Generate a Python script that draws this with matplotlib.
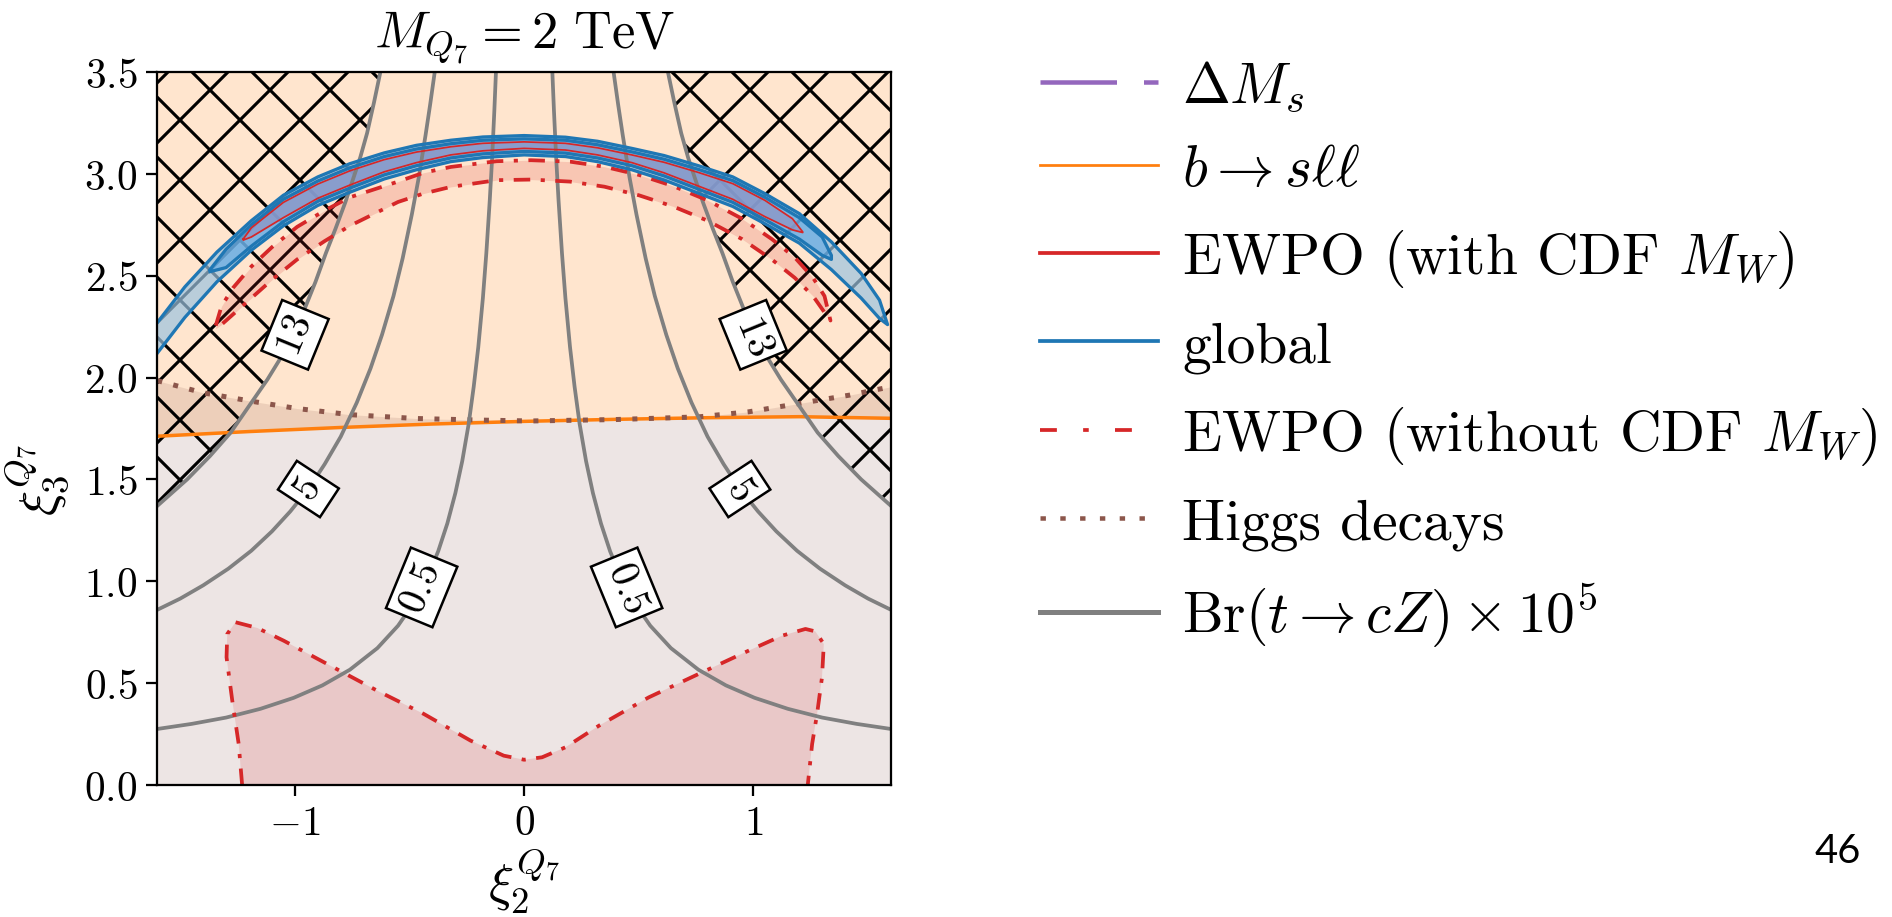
import numpy as np
import matplotlib
matplotlib.use('Agg')
from matplotlib import pyplot as plt
from matplotlib.lines import Line2D

plt.rcParams['mathtext.fontset'] = 'cm'
plt.rcParams['font.family'] = 'serif'
plt.rcParams['font.serif'] = ['cmr10', 'DejaVu Serif']
plt.rcParams['axes.formatter.use_mathtext'] = True
plt.rcParams['hatch.linewidth'] = 1.25

DPI = 180

# b -> s l l boundary (allowed above)
bsll_x = [-1.6, -1.2, -0.8, -0.4, 0.0, 0.4, 0.8, 1.2, 1.6]
bsll_y = [1.712, 1.735, 1.755, 1.772, 1.785, 1.795, 1.803, 1.808, 1.800]

# Higgs decays boundary (allowed below)
higgs_x = [-1.6, -1.40, -1.19, -0.99, -0.76, -0.47, -0.18, 0.03, 0.40, 0.76, 0.98, 1.20, 1.42, 1.6]
higgs_y = [1.985, 1.925, 1.884, 1.848, 1.818, 1.799, 1.791, 1.787, 1.794, 1.807, 1.832, 1.873, 1.914, 1.955]

# global fit, outer region
glob_x = [-1.60, -1.48, -1.34, -1.19, -1.05, -0.90, -0.76, -0.61, -0.47, -0.32, -0.18, 0.00,
          0.18, 0.32, 0.47, 0.61, 0.76, 0.91, 1.05, 1.20, 1.34, 1.47, 1.55, 1.585]
glob_hi = [2.27, 2.445, 2.616, 2.77, 2.895, 2.985, 3.05, 3.103, 3.14, 3.165, 3.181, 3.188,
           3.18, 3.16, 3.125, 3.09, 3.04, 2.985, 2.903, 2.805, 2.666, 2.511, 2.38, 2.26]
glob_lo = [2.12, 2.295, 2.47, 2.625, 2.745, 2.845, 2.91, 2.975, 3.02, 3.06, 3.08, 3.093,
           3.085, 3.06, 3.02, 2.97, 2.905, 2.84, 2.755, 2.66, 2.53, 2.39, 2.29, 2.26]

# global fit, inner region
inner_x = [-1.37, -1.30, -1.19, -1.05, -0.90, -0.76, -0.61, -0.47, -0.32, -0.18, 0.00,
           0.18, 0.32, 0.47, 0.61, 0.76, 0.91, 1.05, 1.20, 1.30, 1.34]
inner_hi = [2.53, 2.63, 2.75, 2.875, 2.965, 3.03, 3.085, 3.122, 3.148, 3.165, 3.172,
            3.165, 3.143, 3.108, 3.072, 3.022, 2.967, 2.885, 2.785, 2.69, 2.60]
inner_lo = [2.52, 2.54, 2.645, 2.765, 2.865, 2.93, 2.995, 3.04, 3.078, 3.098, 3.11,
            3.102, 3.078, 3.04, 2.99, 2.925, 2.86, 2.775, 2.68, 2.60, 2.58]

# EWPO with CDF M_W
cdf_x = [-1.225, -1.19, -1.05, -0.90, -0.76, -0.61, -0.47, -0.32, -0.18, 0.00,
         0.18, 0.32, 0.47, 0.61, 0.76, 0.91, 1.05, 1.17, 1.215]
cdf_hi = [2.68, 2.735, 2.86, 2.95, 3.015, 3.07, 3.107, 3.133, 3.15, 3.157,
          3.15, 3.128, 3.093, 3.057, 3.007, 2.952, 2.87, 2.78, 2.715]
cdf_lo = [2.675, 2.69, 2.785, 2.88, 2.945, 3.01, 3.055, 3.093, 3.113, 3.125,
          3.117, 3.093, 3.055, 3.005, 2.94, 2.875, 2.79, 2.725, 2.712]

# EWPO without CDF M_W, upper arc
nocdf_x = [-1.345, -1.32, -1.27, -1.19, -1.10, -0.99, -0.87, -0.76, -0.55, -0.44, -0.32, -0.12,
           0.03, 0.20, 0.35, 0.50, 0.65, 0.80, 0.95, 1.08, 1.18, 1.26, 1.31, 1.336]
nocdf_hi = [2.255, 2.35, 2.44, 2.545, 2.64, 2.74, 2.82, 2.885, 2.962, 3.005, 3.034, 3.062,
            3.067, 3.06, 3.035, 2.995, 2.94, 2.87, 2.78, 2.68, 2.59, 2.49, 2.40, 2.28]
nocdf_lo = [2.24, 2.26, 2.31, 2.39, 2.48, 2.58, 2.67, 2.745, 2.862, 2.903, 2.936, 2.969,
            2.972, 2.962, 2.937, 2.895, 2.84, 2.77, 2.68, 2.58, 2.49, 2.40, 2.32, 2.28]

# EWPO without CDF M_W, lower region
vreg_x = [-1.230, -1.245, -1.273, -1.298, -1.295, -1.259, -1.164, -1.048, -0.859, -0.641,
          -0.438, -0.234, -0.089, 0.0, 0.078, 0.180, 0.326, 0.543, 0.776, 0.980, 1.125,
          1.227, 1.270, 1.307, 1.299, 1.278, 1.256, 1.237]
vreg_y = [0.0, 0.201, 0.414, 0.627, 0.741, 0.799, 0.771, 0.708, 0.594, 0.463,
          0.349, 0.218, 0.144, 0.124, 0.136, 0.185, 0.291, 0.430, 0.553, 0.660, 0.733,
          0.766, 0.754, 0.692, 0.528, 0.352, 0.201, 0.0]

# Br(t -> cZ) x 10^5 contours, |xi_2| and xi_3 (mirror-symmetric in xi_2)
br_levels = [0.5, 5, 13]
br_absx = {
    0.5: [0.123, 0.13, 0.14, 0.15, 0.165, 0.18, 0.20, 0.22, 0.242, 0.27, 0.30, 0.335, 0.375,
          0.42, 0.48, 0.55, 0.64, 0.76, 0.88, 1.005, 1.15, 1.30, 1.45, 1.60],
    5: [0.39, 0.41, 0.43, 0.46, 0.49, 0.53, 0.57, 0.62, 0.67, 0.73, 0.80, 0.87, 0.94, 1.02,
        1.10, 1.19, 1.29, 1.40, 1.50, 1.60],
    13: [0.627, 0.655, 0.685, 0.715, 0.743, 0.78, 0.823, 0.865, 0.91, 0.96, 1.00, 1.06, 1.12,
         1.194, 1.28, 1.37, 1.47, 1.60],
}
br_y = {
    0.5: [3.50, 3.31, 3.07, 2.87, 2.61, 2.39, 2.15, 1.955, 1.772, 1.59, 1.433, 1.284, 1.147,
          1.024, 0.896, 0.782, 0.672, 0.566, 0.489, 0.428, 0.374, 0.331, 0.30, 0.275],
    5: [3.50, 3.34, 3.19, 2.98, 2.80, 2.585, 2.40, 2.21, 2.045, 1.877, 1.71, 1.575, 1.455, 1.343,
        1.245, 1.15, 1.062, 0.98, 0.915, 0.86],
    13: [3.50, 3.35, 3.20, 3.08, 2.985, 2.86, 2.73, 2.61, 2.47, 2.33, 2.22, 2.10, 1.99,
         1.87, 1.73, 1.615, 1.50, 1.37],
}
# where the level labels sit (|xi_2|, xi_3)
br_lab = {0.5: (0.447, 0.97), 5: (0.941, 1.453), 13: (0.999, 2.21)}

legend_labels = [r'$\Delta M_s$', r'$b\rightarrow s\ell\ell$', r'EWPO (with CDF $M_W$)', 'global',
                 r'EWPO (without CDF $M_W$)', 'Higgs decays', r'$\mathrm{Br}(t\rightarrow cZ)\times 10^5$']

c_orange = '#ff7f0e'
c_brown = '#8c564b'
c_red = '#d62728'
c_blue = '#1f77b4'
c_gray = '#808080'
c_purple = '#9467bd'

dashdot = (0, (4.4, 2.8, 1.1, 2.8))
dotted = (0, (1.0, 2.3))

fig = plt.figure(figsize=(1892 / DPI, 918 / DPI), dpi=DPI)
ax = fig.add_axes([157.3 / 1892, 132 / 918, 733.7 / 1892, 713 / 918])
ax.set_xlim(-1.6, 1.6)
ax.set_ylim(0, 3.5)

# background constraint regions
ax.fill_between(bsll_x, bsll_y, 3.5, color=c_orange, alpha=0.2, lw=0, zorder=0.5)
ax.fill_between(higgs_x, 0, higgs_y, color=c_brown, alpha=0.15, lw=0, zorder=0.6)
ax.plot(bsll_x, bsll_y, color=c_orange, lw=1.4, zorder=2.5)
ax.plot(higgs_x, higgs_y, color=c_brown, lw=2.0, ls=dotted, zorder=2.6)

# region excluded by Br(t -> cZ) > 13e-5
for sgn in (-1, 1):
    cx = [sgn * v for v in br_absx[13]]
    hx = [sgn * 1.6] + cx + [sgn * 1.6]
    hy = [3.5] + br_y[13] + [3.5]
    ax.fill(hx, hy, facecolor='none', edgecolor='black', hatch='x', lw=0, zorder=1)

# EWPO without CDF
ax.fill(vreg_x + [vreg_x[0]], vreg_y + [0.0], color=c_red, alpha=0.15, lw=0, zorder=1.5)
ax.plot(vreg_x, vreg_y, color=c_red, lw=1.5, ls=dashdot, zorder=3.5)
ax.fill_between(nocdf_x, nocdf_lo, nocdf_hi, color=c_red, alpha=0.16, lw=0, zorder=1.5)
ax.plot(nocdf_x + nocdf_x[::-1], nocdf_hi + nocdf_lo[::-1], color=c_red, lw=1.5, ls=dashdot, zorder=3.5)

# global fit and EWPO with CDF
ax.fill_between(glob_x, glob_lo, glob_hi, color='#9cc3e0', alpha=0.7, lw=0, zorder=1.6)
ax.fill_between(inner_x, inner_lo, inner_hi, color='#4fa3e8', alpha=0.55, lw=0, zorder=1.7)
ax.fill_between(cdf_x, cdf_lo, cdf_hi, color='#8f93c4', alpha=0.7, lw=0, zorder=1.8)
ax.plot(glob_x + glob_x[::-1], glob_hi + glob_lo[::-1], color=c_blue, lw=1.3, zorder=3.6)
ax.plot(inner_x + inner_x[::-1], inner_hi + inner_lo[::-1], color=c_blue, lw=1.3, zorder=3.6)
ax.plot(cdf_x + cdf_x[::-1] + [cdf_x[0]], cdf_hi + cdf_lo[::-1] + [cdf_hi[0]],
        color=c_red, lw=0.7, zorder=3.7)

# Br(t -> cZ) contours with boxed level labels
for sgn in (-1, 1):
    for lev in br_levels:
        cx = [sgn * v for v in br_absx[lev]]
        cy = br_y[lev]
        ax.plot(cx, cy, color=c_gray, lw=1.5, zorder=3)
        lx, ly = sgn * br_lab[lev][0], br_lab[lev][1]
        pts = ax.transData.transform(np.column_stack([cx, cy]))
        here = ax.transData.transform((lx, ly))
        k = np.argmin(np.hypot(*(pts - here).T))
        k = min(max(k, 1), len(cx) - 1)
        d = pts[k] - pts[k - 1]
        ang = np.degrees(np.arctan2(d[1], d[0]))
        if ang > 90:
            ang -= 180
        if ang < -90:
            ang += 180
        ax.text(lx, ly, '$%g$' % lev, rotation=ang, rotation_mode='anchor',
                ha='center', va='center', fontsize=16, zorder=6,
                bbox=dict(boxstyle='square,pad=0.18', fc='white', ec='black', lw=1.0))

ax.set_xticks([-1, 0, 1])
ax.set_yticks([0.0, 0.5, 1.0, 1.5, 2.0, 2.5, 3.0, 3.5])
ax.yaxis.set_major_formatter(matplotlib.ticker.FormatStrFormatter(r'$%.1f$'))
ax.xaxis.set_major_formatter(matplotlib.ticker.FuncFormatter(lambda v, p: r'$%d$' % v))
ax.tick_params(labelsize=16.5, width=0.9, length=4.5)
for sp in ax.spines.values():
    sp.set_linewidth(0.9)
    sp.set_zorder(7)

ax.set_title(r'$M_{Q_7} = 2\ \mathrm{TeV}$', fontsize=21, pad=10)
ax.set_xlabel(r'$\xi_2^{Q_7}$', fontsize=21)
ax.set_ylabel(r'$\xi_3^{Q_7}$', fontsize=21)
ax.xaxis.set_label_coords(0.5, -0.085)
ax.yaxis.set_label_coords(-0.118, 0.43)

handles = [
    Line2D([], [], color=c_purple, lw=1.8, ls=(0, (17, 6))),
    Line2D([], [], color=c_orange, lw=1.1),
    Line2D([], [], color=c_red, lw=1.5),
    Line2D([], [], color=c_blue, lw=1.5),
    Line2D([], [], color=c_red, lw=1.5, ls=(0, (4.5, 7.0, 1.5, 7.0))),
    Line2D([], [], color=c_brown, lw=1.8, ls=(0, (1.2, 3.2))),
    Line2D([], [], color=c_gray, lw=2.0),
]
fig.legend(handles, legend_labels, loc='upper left', bbox_to_anchor=(1040 / 1892, 0.935),
           frameon=False, fontsize=23, handlelength=2.05, handletextpad=0.42,
           labelspacing=0.54, borderpad=0, borderaxespad=0)

fig.text(1838 / 1892, 1 - 852 / 918, '46', family='Lato', fontsize=16,
         ha='center', va='center')

fig.savefig('out.png', dpi=DPI)
